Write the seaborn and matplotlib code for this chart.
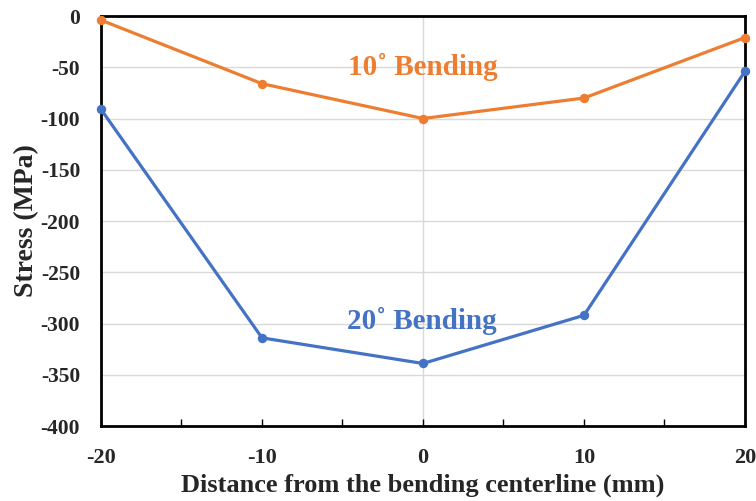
import matplotlib
matplotlib.use("Agg")
import matplotlib.pyplot as plt
import seaborn as sns
import pandas as pd

# Residual stress across the bend, sampled every 10 mm
distance_mm = [-20, -10, 0, 10, 20]
stress_10deg = [-4, -66, -100, -80, -21]
stress_20deg = [-91, -314, -339, -292, -54]

y_ticks = [0, -50, -100, -150, -200, -250, -300, -350, -400]
x_ticks = [-20, -10, 0, 10, 20]

orange = "#ED7D31"
blue = "#4472C4"

df = pd.DataFrame({
    "distance": distance_mm * 2,
    "stress": stress_10deg + stress_20deg,
    "case": ["10"] * len(distance_mm) + ["20"] * len(distance_mm),
})

sns.set_theme(style="white")
plt.rcParams["font.family"] = ["Liberation Serif", "DejaVu Serif"]
plt.rcParams["font.weight"] = "bold"

fig = plt.figure(figsize=(7.56, 5.01), dpi=100)
ax = fig.add_axes([0.1336, 0.1497, 0.8518, 0.8183])

# light grid: horizontal at every tick, single vertical at x = 0
for yv in y_ticks[1:-1]:
    ax.axhline(yv, color="#D9D9D9", lw=1.0, zorder=0)
ax.axvline(0, color="#D9D9D9", lw=1.0, zorder=0)

sns.lineplot(data=df, x="distance", y="stress", hue="case",
             palette={"10": orange, "20": blue}, marker="o",
             markersize=6.8, markeredgewidth=0, linewidth=2.3,
             legend=False, ax=ax, clip_on=False, zorder=3)

ax.set_xlim(-20, 20)
ax.set_ylim(-400, 0)
ax.set_xticks(x_ticks)
ax.set_xticks([-15, -5, 5, 15], minor=True)
ax.set_yticks(y_ticks)
ax.set_xticklabels([str(v) for v in x_ticks], fontsize=16, fontweight="bold")
ax.set_yticklabels([str(v) for v in y_ticks], fontsize=15.5, fontweight="bold")
ax.tick_params(axis="x", which="both", direction="in", length=5, width=1,
               color="black", pad=16, bottom=True)
ax.tick_params(axis="y", length=0, pad=15)

for s in ax.spines.values():
    s.set_color("black")
    s.set_linewidth(2)

ax.set_xlabel("Distance from the bending centerline (mm)", fontsize=19,
              fontweight="bold", labelpad=4)
ax.set_ylabel("Stress (MPa)", fontsize=20, fontweight="bold", labelpad=1)

ax.text(0, -57.5, "10˚ Bending", color=orange, fontsize=21,
        fontweight="bold", ha="center", va="baseline")
ax.text(-0.1, -305, "20˚ Bending", color=blue, fontsize=21,
        fontweight="bold", ha="center", va="baseline")

fig.savefig("out.png", dpi=100)
